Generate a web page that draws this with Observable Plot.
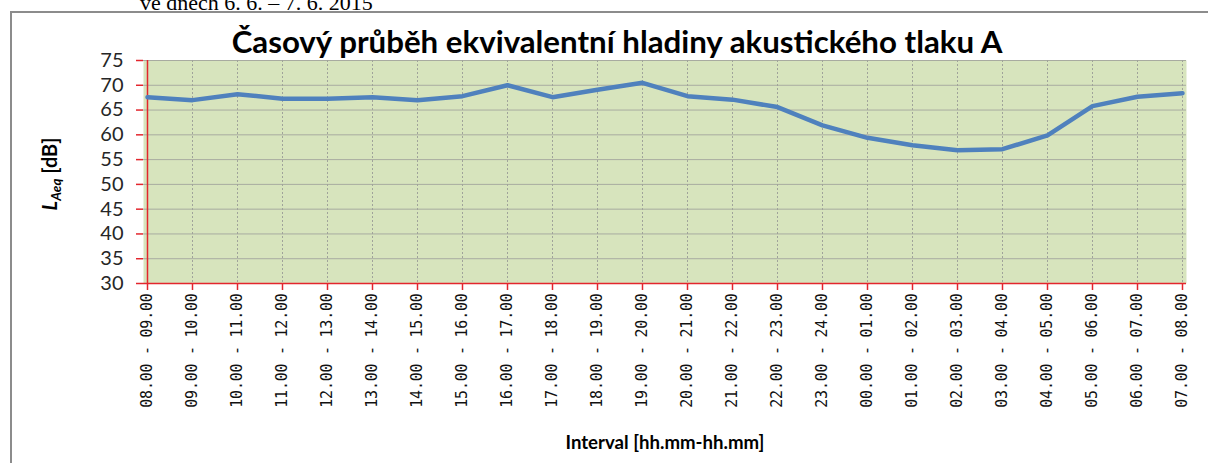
<!DOCTYPE html>
<html><head><meta charset="utf-8">
<script src="https://cdn.jsdelivr.net/npm/d3@7"></script>
<script src="https://cdn.jsdelivr.net/npm/@observablehq/plot@0.6"></script>
<style>body{margin:0;background:#fff;overflow:hidden} #chart{position:relative;width:1208px;height:463px}</style>
</head><body><div id="chart"></div><script>
const categories = ["08.00 - 09.00","09.00 - 10.00","10.00 - 11.00","11.00 - 12.00","12.00 - 13.00","13.00 - 14.00","14.00 - 15.00","15.00 - 16.00","16.00 - 17.00","17.00 - 18.00","18.00 - 19.00","19.00 - 20.00","20.00 - 21.00","21.00 - 22.00","22.00 - 23.00","23.00 - 24.00","00.00 - 01.00","01.00 - 02.00","02.00 - 03.00","03.00 - 04.00","04.00 - 05.00","05.00 - 06.00","06.00 - 07.00","07.00 - 08.00"];
const values = [67.6,67.0,68.2,67.3,67.3,67.6,67.0,67.8,70.0,67.6,69.1,70.5,67.8,67.1,65.6,61.9,59.4,57.9,56.9,57.1,59.9,65.8,67.7,68.4];
const yTicks = [30,35,40,45,50,55,60,65,70,75];
const titleText = "Časový průběh ekvivalentní hladiny akustického tlaku A";
const xLabel = "Interval [hh.mm-hh.mm]";
const topText = "ve dnech 6. 6. – 7. 6. 2015";

const data = categories.map((c,i)=>({interval:c, laeq:values[i]}));
const red = "#e3262d";
const plot = Plot.plot({
  width:1208, height:463, marginLeft:143, marginRight:22, marginTop:60, marginBottom:180,
  style:{background:"transparent", fontFamily:"Lato", overflow:"visible"},
  x:{type:"point", domain:categories, padding:0},
  y:{domain:[30,75]},
  marks:[
    Plot.frame({fill:"#d7e4bd", stroke:null}),
    Plot.gridY(yTicks, {stroke:"#a8aba0", strokeOpacity:1}),
    Plot.gridX(categories, {stroke:"#a0a39a", strokeOpacity:1, strokeDasharray:"2,2"}),
    Plot.axisY(yTicks, {tickSize:7, tickPadding:13, stroke:red, strokeWidth:1.5, fill:"#262626", fontSize:20, label:null}),
    Plot.axisX(categories, {tickSize:7, tickRotate:-90, tickPadding:3, stroke:red, strokeWidth:1.5, fill:"#111", fontSize:15, lineWidth:Infinity, textOverflow:null, label:null}),
    Plot.ruleY([30], {stroke:red, strokeWidth:1.5}),
    Plot.ruleX([categories[0]], {stroke:red, strokeWidth:1.5}),
    Plot.line(data, {x:"interval", y:"laeq", stroke:"#4f81bd", strokeWidth:4.5})
  ]
});
document.getElementById("chart").appendChild(plot);
const svg = d3.select(plot);
svg.selectAll('g[aria-label="x-axis tick label"]').style("font-family","'DejaVu Sans Mono'").style("letter-spacing","-0.25px").style("font-size","15px");
svg.insert("rect", ":first-child").attr("x",11).attr("y",12).attr("width",1400).attr("height",800)
  .attr("fill","none").attr("stroke","#8c8c8c").attr("stroke-width",2);
svg.append("text").attr("x",140).attr("y",10).attr("text-anchor","start").attr("font-family","Liberation Serif").attr("font-size",22).attr("fill","#000").text(topText);
function fit(sel, w){
  const len = sel.node().getComputedTextLength();
  const fs = +sel.attr("font-size");
  sel.attr("font-size", fs*w/len);
}
const t = svg.append("text").attr("x",617).attr("y",53).attr("text-anchor","middle").attr("font-family","Lato").attr("font-weight","bold").attr("font-size",26).attr("fill","#000").text(titleText);
fit(t, 771);
const xl = svg.append("text").attr("x",665).attr("y",449).attr("text-anchor","middle").attr("font-family","Lato").attr("font-weight","bold").attr("font-size",18).attr("fill","#000").text(xLabel);
fit(xl, 199);
const yl = svg.append("text").attr("transform","translate(57,174) rotate(-90)").attr("text-anchor","middle").attr("font-family","Lato").attr("font-weight","bold").attr("font-size",20).attr("fill","#000");
yl.append("tspan").attr("font-style","italic").text("L");
yl.append("tspan").attr("font-style","italic").attr("font-size",13.5).attr("dy",4).text("Aeq");
yl.append("tspan").attr("dy",-4).text(" [dB]");
</script></body></html>
